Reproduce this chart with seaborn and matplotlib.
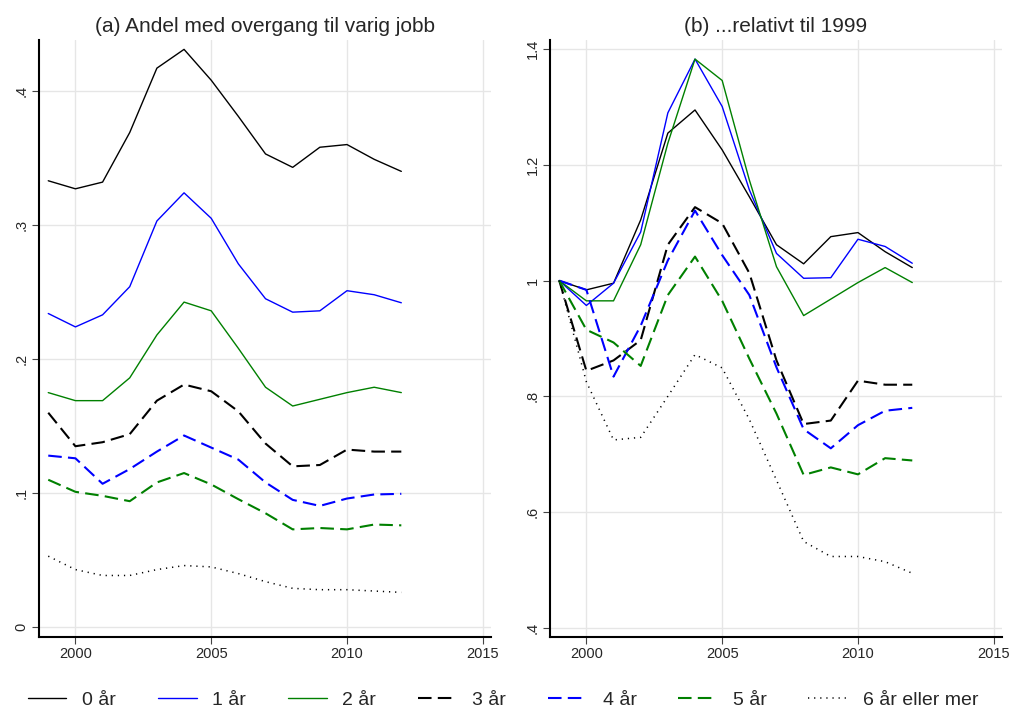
import numpy as np
import pandas as pd
import seaborn as sns
import matplotlib.pyplot as plt

years = list(range(1999, 2013))
labels = ["0 år", "1 år", "2 år", "3 år", "4 år", "5 år", "6 år eller mer"]

# (a) andel med overgang til varig jobb
andel_0 = [0.333, 0.327, 0.332, 0.369, 0.417, 0.431, 0.408, 0.381, 0.353, 0.343, 0.358, 0.360, 0.349, 0.340]
andel_1 = [0.234, 0.224, 0.233, 0.254, 0.303, 0.324, 0.305, 0.271, 0.245, 0.235, 0.236, 0.251, 0.248, 0.242]
andel_2 = [0.175, 0.169, 0.169, 0.186, 0.218, 0.2425, 0.236, 0.208, 0.179, 0.165, 0.170, 0.175, 0.179, 0.175]
andel_3 = [0.160, 0.135, 0.138, 0.144, 0.169, 0.181, 0.176, 0.161, 0.137, 0.120, 0.121, 0.1325, 0.131, 0.131]
andel_4 = [0.128, 0.126, 0.107, 0.118, 0.131, 0.143, 0.134, 0.125, 0.108, 0.095, 0.0905, 0.096, 0.099, 0.0995]
andel_5 = [0.110, 0.101, 0.098, 0.094, 0.108, 0.115, 0.1065, 0.0955, 0.085, 0.073, 0.074, 0.073, 0.0766, 0.076]
andel_6 = [0.053, 0.043, 0.0386, 0.0386, 0.043, 0.046, 0.045, 0.040, 0.034, 0.029, 0.028, 0.028, 0.027, 0.026]

# (b) relativt til 1999
rel_0 = [1.0, 0.984, 0.9955, 1.105, 1.255, 1.295, 1.226, 1.145, 1.062, 1.029, 1.076, 1.083, 1.050, 1.0225]
rel_1 = [1.0, 0.957, 0.9955, 1.084, 1.290, 1.383, 1.301, 1.157, 1.047, 1.004, 1.005, 1.0715, 1.059, 1.030]
rel_2 = [1.0, 0.965, 0.965, 1.062, 1.2375, 1.383, 1.346, 1.174, 1.024, 0.9395, 0.968, 0.9966, 1.0225, 0.9966]
rel_3 = [1.0, 0.844, 0.862, 0.897, 1.062, 1.127, 1.099, 1.013, 0.862, 0.752, 0.758, 0.827, 0.820, 0.820]
rel_4 = [1.0, 0.984, 0.834, 0.922, 1.035, 1.121, 1.044, 0.975, 0.850, 0.743, 0.710, 0.750, 0.775, 0.780]
rel_5 = [1.0, 0.915, 0.893, 0.8525, 0.975, 1.0415, 0.965, 0.865, 0.770, 0.664, 0.677, 0.665, 0.693, 0.689]
rel_6 = [1.0, 0.825, 0.7245, 0.729, 0.800, 0.872, 0.849, 0.760, 0.655, 0.549, 0.523, 0.523, 0.514, 0.494]

andel = [andel_0, andel_1, andel_2, andel_3, andel_4, andel_5, andel_6]
rel = [rel_0, rel_1, rel_2, rel_3, rel_4, rel_5, rel_6]

colors = ["black", "#0000ff", "#008000", "black", "#0000ff", "#008000", "black"]
styles = ["-", "-", "-", (0, (6.5, 3)), (0, (6.5, 3)), (0, (6.5, 3)), (0, (0.8, 3.2))]
widths = [1.0, 1.0, 1.0, 1.5, 1.5, 1.5, 1.1]

sns.set_theme(style="white")
plt.rcParams['font.family'] = ['Liberation Sans', 'DejaVu Sans']

fig = plt.figure(figsize=(10.11, 7.14), dpi=100)
ax1 = fig.add_axes([0.0386, 0.108, 0.447, 0.836])
ax2 = fig.add_axes([0.544, 0.108, 0.447, 0.836])

for ax, data in [(ax1, andel), (ax2, rel)]:
    for i in range(7):
        df = pd.DataFrame({"year": years, "value": data[i]})
        sns.lineplot(data=df, x="year", y="value", ax=ax, color=colors[i],
                     linestyle=styles[i], linewidth=widths[i], label=labels[i])
    ax.get_legend().remove()
    ax.set_xlim(1998.66, 2015.3)
    ax.set_xticks([2000, 2005, 2010, 2015])
    ax.grid(True, color="#e6e6e6", linewidth=1)
    ax.set_axisbelow(True)
    for s in ["top", "right"]:
        ax.spines[s].set_visible(False)
    for s in ["left", "bottom"]:
        ax.spines[s].set_color("black")
        ax.spines[s].set_linewidth(1.5)
    ax.tick_params(axis="both", which="major", length=5, width=0.8, color="#444444",
                   labelsize=10.5, direction="out", left=True, bottom=True, pad=2.5)
    ax.set_xlabel("")
    ax.set_ylabel("")

ax1.set_ylim(-0.0072, 0.438)
ax1.set_yticks([0, 0.1, 0.2, 0.3, 0.4], ["0", ".1", ".2", ".3", ".4"])
ax2.set_ylim(0.384, 1.416)
ax2.set_yticks([0.4, 0.6, 0.8, 1.0, 1.2, 1.4], [".4", ".6", ".8", "1", "1.2", "1.4"])
for ax in [ax1, ax2]:
    for t in ax.get_yticklabels():
        t.set_rotation(90)
        t.set_verticalalignment("center")

ax1.set_title("(a) Andel med overgang til varig jobb", fontsize=15, pad=6)
ax2.set_title("(b) ...relativt til 1999", fontsize=15, pad=6)

handles, leg_labels = ax1.get_legend_handles_labels()
fig.legend(handles, leg_labels, loc="center", bbox_to_anchor=(0.4975, 0.02), ncol=7,
           frameon=False, fontsize=14, handlelength=2.0, handletextpad=0.8,
           columnspacing=2.15)

plt.savefig("out.png", dpi=100)
